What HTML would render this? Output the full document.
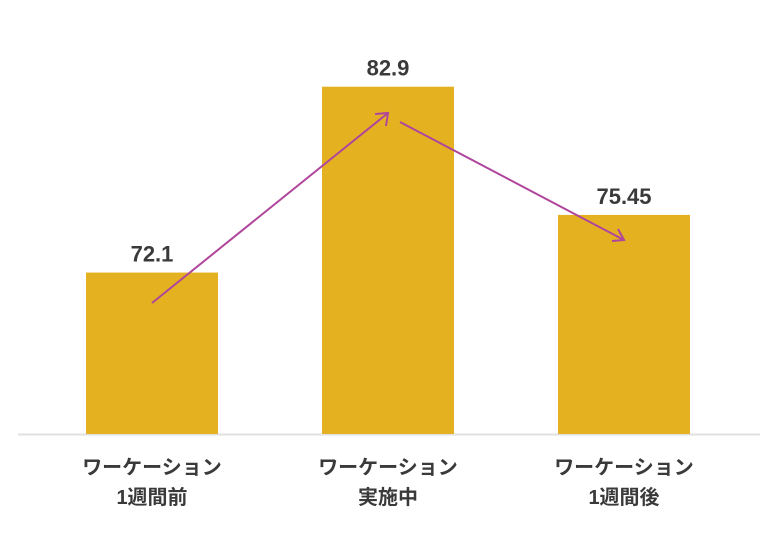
<!DOCTYPE html>
<html><head><meta charset="utf-8"><style>
body{margin:0;background:#fff;width:776px;height:538px;overflow:hidden;font-family:"Liberation Sans","Noto Sans CJK JP",sans-serif}
svg text{font-family:"Liberation Sans","Noto Sans CJK JP",sans-serif;font-weight:bold;fill:#3a3a3a}
</style></head><body>
<svg id="chart" width="776" height="538">
<line x1="18" y1="434.5" x2="760" y2="434.5" stroke="#e0e0e0" stroke-width="2"/>
<g id="bars"></g>
<g stroke="#b0459c" stroke-width="2" fill="none">
<line x1="152" y1="303" x2="388" y2="113"/>
<polyline points="375,114 388,113 386,126"/>
<line x1="400" y1="122" x2="624" y2="240"/>
<polyline points="612,241 624,240 618,229"/>
</g>
</svg>
<script>
const categoriesLine1 = ["ワーケーション","ワーケーション","ワーケーション"];
const categoriesLine2 = ["1週間前","実施中","1週間後"];
const values = [72.1, 82.9, 75.45];
const valueLabels = ["72.1","82.9","75.45"];
const yMin = 62.72, pxPerUnit = 17.21, baseY = 434;
function yScale(v){return baseY-(v-yMin)*pxPerUnit;}
function xCenter(i){return 152+i*236;}
const g=document.getElementById('bars');
const ns='http://www.w3.org/2000/svg';
values.forEach((v,i)=>{
  const r=document.createElementNS(ns,'rect');
  r.setAttribute('x',xCenter(i)-66);r.setAttribute('width',132);
  r.setAttribute('y',yScale(v));r.setAttribute('height',baseY-yScale(v));
  r.setAttribute('fill','#e4b221');
  
  
  g.appendChild(r);
  const t=document.createElementNS(ns,'text');
  t.setAttribute('x',xCenter(i));t.setAttribute('y',yScale(v)-11);
  t.setAttribute('text-anchor','middle');t.setAttribute('font-size','22');
  t.textContent=valueLabels[i];
  
  
  g.appendChild(t);
  [categoriesLine1[i],categoriesLine2[i]].forEach((s,k)=>{
    const c=document.createElementNS(ns,'text');
    c.setAttribute('x',xCenter(i));c.setAttribute('y',474+k*30);
    c.setAttribute('text-anchor','middle');c.setAttribute('font-size','20');
    c.textContent=s;
    
    
    g.appendChild(c);
  });
});
</script>
</body></html>
